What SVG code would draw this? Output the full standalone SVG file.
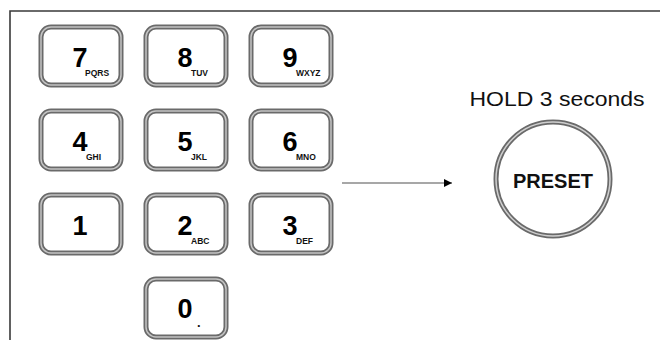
<svg xmlns="http://www.w3.org/2000/svg" width="660" height="340" viewBox="0 0 660 340">
<defs>
<style>
.ko{fill:#fff;stroke:#6a6a6a;stroke-width:5}
.ki{fill:none;stroke:#c4c4c4;stroke-width:1.5}
.d{font-family:"Liberation Sans",Arial,sans-serif;font-weight:bold;font-size:27px;fill:#000;text-anchor:middle}
.s{font-family:"Liberation Sans",Arial,sans-serif;font-weight:bold;font-size:8.5px;fill:#111}
</style>
<marker id="ah" viewBox="0 0 10 10" refX="10" refY="5" markerWidth="8" markerHeight="8" markerUnits="userSpaceOnUse" orient="auto">
<path d="M0,0 L10,5 L0,10 z" fill="#000"/>
</marker>
</defs>
<rect width="660" height="340" fill="#fff"/>
<path d="M10,340 V11 H660" fill="none" stroke="#3a3a3a" stroke-width="1.6"/>
<g id="key7"><rect class="ko" x="41" y="27" width="80" height="58" rx="10"/><rect class="ki" x="41" y="27" width="80" height="58" rx="10"/><text class="d" x="80" y="67">7</text><text class="s" x="85" y="76">PQRS</text></g>
<g id="key8"><rect class="ko" x="146" y="27" width="80" height="58" rx="10"/><rect class="ki" x="146" y="27" width="80" height="58" rx="10"/><text class="d" x="185" y="67">8</text><text class="s" x="191" y="76">TUV</text></g>
<g id="key9"><rect class="ko" x="251" y="27" width="80" height="58" rx="10"/><rect class="ki" x="251" y="27" width="80" height="58" rx="10"/><text class="d" x="290" y="67">9</text><text class="s" x="296" y="76">WXYZ</text></g>
<g id="key4"><rect class="ko" x="41" y="111" width="80" height="58" rx="10"/><rect class="ki" x="41" y="111" width="80" height="58" rx="10"/><text class="d" x="80" y="151">4</text><text class="s" x="86" y="160">GHI</text></g>
<g id="key5"><rect class="ko" x="146" y="111" width="80" height="58" rx="10"/><rect class="ki" x="146" y="111" width="80" height="58" rx="10"/><text class="d" x="185" y="151">5</text><text class="s" x="191" y="160">JKL</text></g>
<g id="key6"><rect class="ko" x="251" y="111" width="80" height="58" rx="10"/><rect class="ki" x="251" y="111" width="80" height="58" rx="10"/><text class="d" x="290" y="151">6</text><text class="s" x="296" y="160">MNO</text></g>
<g id="key1"><rect class="ko" x="41" y="195" width="80" height="58" rx="10"/><rect class="ki" x="41" y="195" width="80" height="58" rx="10"/><text class="d" x="80" y="235">1</text></g>
<g id="key2"><rect class="ko" x="146" y="195" width="80" height="58" rx="10"/><rect class="ki" x="146" y="195" width="80" height="58" rx="10"/><text class="d" x="185" y="235">2</text><text class="s" x="191" y="244">ABC</text></g>
<g id="key3"><rect class="ko" x="251" y="195" width="80" height="58" rx="10"/><rect class="ki" x="251" y="195" width="80" height="58" rx="10"/><text class="d" x="290" y="235">3</text><text class="s" x="296" y="244">DEF</text></g>
<g id="key0"><rect class="ko" x="146" y="279" width="80" height="58" rx="10"/><rect class="ki" x="146" y="279" width="80" height="58" rx="10"/><text class="d" x="185" y="318">0</text><text class="s" x="197" y="327" style="font-size:13px">.</text></g>
<g id="connectors">
<line x1="342" y1="183" x2="452" y2="183" stroke="#8a8a8a" stroke-width="1.3" marker-end="url(#ah)"/>
</g>
<g id="preset">
<text x="557" y="106" text-anchor="middle" font-family="'Liberation Sans',Arial,sans-serif" font-size="20" textLength="175" lengthAdjust="spacingAndGlyphs" fill="#111">HOLD 3 seconds</text>
<circle cx="553" cy="179" r="57" fill="#fff" stroke="#6a6a6a" stroke-width="5"/>
<circle cx="553" cy="179" r="57" fill="none" stroke="#cfcfcf" stroke-width="1.5"/>
<text x="553" y="188" text-anchor="middle" font-family="'Liberation Sans',Arial,sans-serif" font-weight="bold" font-size="20" fill="#111">PRESET</text>
</g>
</svg>
